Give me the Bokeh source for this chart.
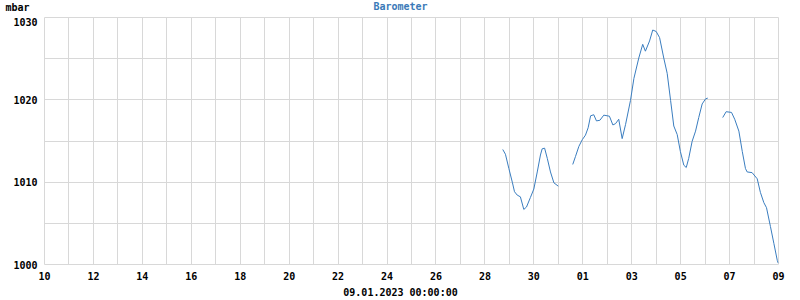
import numpy as np
from bokeh.plotting import figure
from bokeh.layouts import column
from bokeh.models import FixedTicker, Range1d
from bokeh.core.properties import value
from bokeh.embed import file_html
from bokeh.resources import INLINE

# time in days since 10.12.2022 00:00, NaN = gap
day = [18.73, 18.84, 18.98, 19.12, 19.21, 19.32, 19.45, 19.59, 19.70, 19.86, 20.00,
       20.14, 20.27, 20.34, 20.44, 20.55, 20.68, 20.82, 21.00,
       np.nan,
       21.59, 21.70, 21.84, 21.98, 22.11, 22.22, 22.32, 22.45, 22.56, 22.70, 22.86,
       23.09, 23.23, 23.34, 23.47, 23.61, 23.75, 23.95, 24.09, 24.29, 24.45, 24.56,
       24.73, 24.86, 25.00, 25.14, 25.31, 25.45, 25.59, 25.72, 25.86, 25.99, 26.13,
       26.23, 26.33, 26.47, 26.61, 26.74, 26.88, 27.02, 27.11,
       np.nan,
       27.72, 27.86, 28.08, 28.21, 28.38, 28.52, 28.65, 28.72, 28.92, 29.13, 29.26,
       29.40, 29.51, 29.67, 29.81, 29.95, 29.99]
pressure = [1013.97, 1013.39, 1011.65, 1010.00, 1008.84, 1008.43, 1008.22, 1006.69, 1006.98,
            1008.14, 1009.17, 1011.24, 1013.30, 1014.05, 1014.13, 1012.89, 1011.24, 1009.92,
            1009.51,
            np.nan,
            1012.15, 1013.10, 1014.34, 1015.16, 1015.71, 1016.61, 1018.06, 1018.19, 1017.44,
            1017.52, 1018.14, 1018.01, 1016.95, 1017.11, 1017.64, 1015.29, 1017.02, 1019.92,
            1022.60, 1025.08, 1026.74, 1025.91, 1027.15, 1028.48, 1028.30, 1027.56, 1025.08,
            1023.22, 1019.92, 1016.82, 1015.78, 1013.72, 1012.06, 1011.78, 1012.89, 1014.96,
            1016.20, 1017.85, 1019.50, 1020.12, 1020.21,
            np.nan,
            1017.85, 1018.56, 1018.47, 1017.64, 1016.20, 1013.72, 1011.65, 1011.24, 1011.16,
            1010.41, 1008.76, 1007.52, 1006.90, 1004.62, 1002.57, 1000.50, 1000.16]

x_ticks = list(range(0, 31, 2))
x_tick_labels = ["10", "12", "14", "16", "18", "20", "22", "24", "26", "28", "30",
                 "01", "03", "05", "07", "09"]
y_ticks = [1000, 1010, 1020, 1030]
y_grid = [1000, 1005, 1010, 1015, 1020, 1025, 1030]
x_grid = list(range(0, 31))

title_text = "Barometer"
unit_text = "mbar"
date_text = "09.01.2023 00:00:00"

FONT = "DejaVu Sans Mono"
GRID = "#d8d8d8"
W = 800
HEAD_H = 17


def text_strip(height):
    f = figure(width=W, height=height, output_backend="svg", toolbar_location=None,
               x_range=Range1d(0, W), y_range=Range1d(height, 0),
               x_axis_type=None, y_axis_type=None, min_border=0)
    f.frame_align = False
    f.outline_line_color = None
    f.background_fill_color = "white"
    f.border_fill_color = "white"
    f.grid.visible = False
    return f


# header: unit + title
head = text_strip(HEAD_H)
head.text(x=[5], y=[7], text=[unit_text], text_font=value(FONT), text_font_style="bold",
          text_font_size="10px", text_color="black", text_align="left",
          text_baseline="middle")
head.text(x=[400], y=[6], text=[title_text], text_font=value(FONT), text_font_style="bold",
          text_font_size="10px", text_color="#3a7ab8", text_align="center",
          text_baseline="middle")

# main chart
p = figure(width=W, height=284 - HEAD_H, output_backend="svg", toolbar_location=None,
           x_range=Range1d(0, 30), y_range=Range1d(1000, 1030),
           min_border_left=44, min_border_right=22, min_border_top=0,
           min_border_bottom=20)
p.frame_align = False
p.outline_line_color = GRID
p.background_fill_color = "white"
p.border_fill_color = "white"

p.line(day, pressure, line_color="#3a7dbf", line_width=1)

for ax in (p.xaxis[0], p.yaxis[0]):
    ax.axis_line_color = None
    ax.major_tick_line_color = None
    ax.minor_tick_line_color = None
    ax.major_tick_out = 0
    ax.major_tick_in = 0
    ax.major_label_text_font = FONT
    ax.major_label_text_font_style = "bold"
    ax.major_label_text_font_size = "10px"
    ax.major_label_text_color = "black"

p.xaxis.ticker = FixedTicker(ticks=x_ticks)
p.xaxis.major_label_overrides = {t: l for t, l in zip(x_ticks, x_tick_labels)}
p.xaxis.major_label_standoff = 7
p.yaxis.ticker = FixedTicker(ticks=y_ticks)
p.yaxis.major_label_standoff = 7

p.xgrid.ticker = FixedTicker(ticks=x_grid)
p.ygrid.ticker = FixedTicker(ticks=y_grid)
for g in (p.xgrid[0], p.ygrid[0]):
    g.grid_line_color = GRID
    g.grid_line_width = 1

# footer: timestamp
foot = text_strip(16)
foot.text(x=[400], y=[8], text=[date_text], text_font=value(FONT), text_font_style="bold",
          text_font_size="10px", text_color="black", text_align="center",
          text_baseline="middle")

layout = column(head, p, foot, spacing=0)
open("out.html", "w").write(file_html(layout, INLINE))
